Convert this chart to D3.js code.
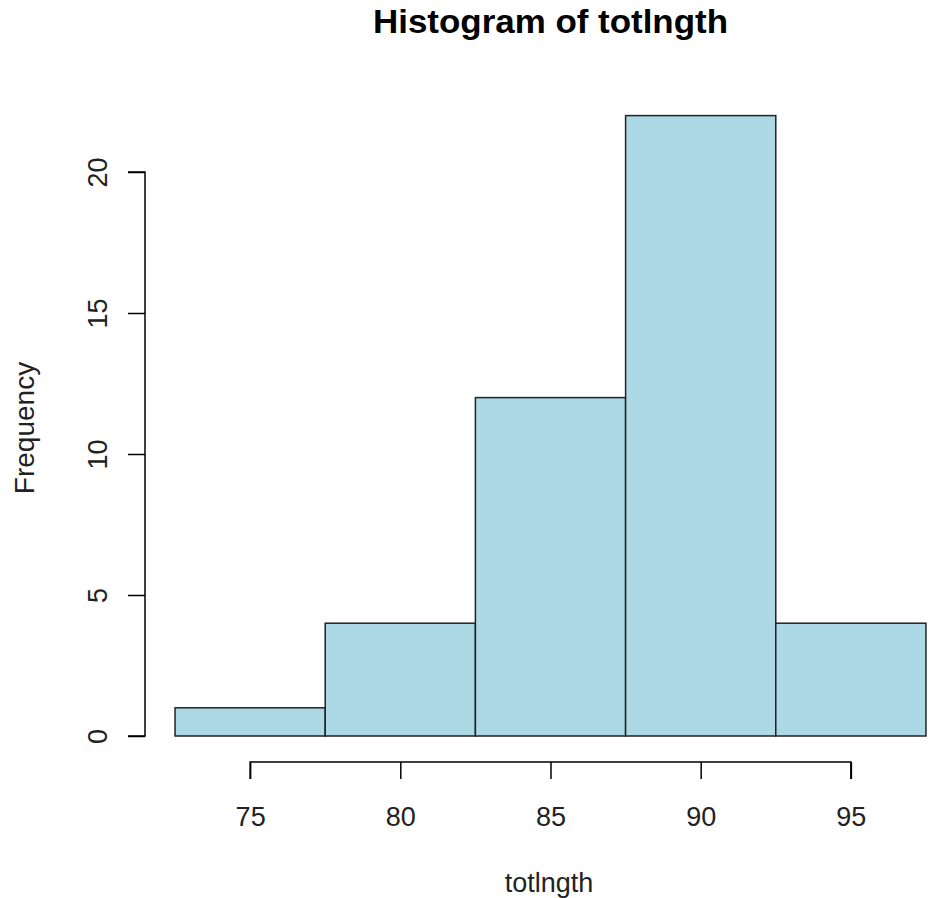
<!DOCTYPE html>
<html><head><meta charset="utf-8">
<script src="https://cdn.jsdelivr.net/npm/d3@7"></script>
<style>body{margin:0;background:#fff}svg{display:block}</style>
</head><body>
<script>
const binStarts = [72.5, 77.5, 82.5, 87.5, 92.5];
const binEnds = [77.5, 82.5, 87.5, 92.5, 97.5];
const counts = [1, 4, 12, 22, 4];
const xTicks = [75, 80, 85, 90, 95];
const yTicks = [0, 5, 10, 15, 20];
const title = "Histogram of totlngth";
const xLabel = "totlngth";
const yLabel = "Frequency";

const W = 932, H = 898;
const svg = d3.select("body").append("svg").attr("width", W).attr("height", H);
const font = "'Liberation Sans', Arial, sans-serif";

const x = d3.scaleLinear().domain([71.5, 98.5]).range([145, 956]);
const y = d3.scaleLinear().domain([0, 20]).range([736, 172]);

// bars
svg.selectAll("rect.bar").data(counts).enter().append("rect")
  .attr("x", (d, i) => x(binStarts[i]))
  .attr("width", (d, i) => x(binEnds[i]) - x(binStarts[i]))
  .attr("y", d => y(d))
  .attr("height", d => y(0) - y(d))
  .attr("fill", "#ADD8E6")
  .attr("stroke", "#222")
  .attr("stroke-width", 1.5);

// x axis
const xAxis = d3.axisBottom(x).tickValues(xTicks).tickSize(17).tickFormat(d3.format("d"));
const gx = svg.append("g").attr("transform", "translate(0,762)").call(xAxis);
gx.select(".domain").attr("d", `M${x(xTicks[0])},17V0H${x(xTicks[xTicks.length-1])}V17`).attr("stroke", "#000").attr("stroke-width", 1.5);
gx.selectAll(".tick line").attr("stroke", "#000").attr("stroke-width", 1.5);
gx.selectAll(".tick text").attr("font-family", font).attr("font-size", 27).attr("fill", "#222")
  .attr("y", 64).attr("dy", null);

// y axis
const yAxis = d3.axisLeft(y).tickValues(yTicks).tickSize(17).tickFormat(d3.format("d"));
const gy = svg.append("g").attr("transform", "translate(145,0)").call(yAxis);
gy.select(".domain").attr("d", `M-17,${y(yTicks[0])}H0V${y(yTicks[yTicks.length-1])}H-17`).attr("stroke", "#000").attr("stroke-width", 1.5);
gy.selectAll(".tick line").attr("stroke", "#000").attr("stroke-width", 1.5);
gy.selectAll(".tick text")
  .attr("font-family", font).attr("font-size", 27).attr("fill", "#222")
  .attr("x", null).attr("dy", null)
  .attr("text-anchor", "middle")
  .attr("transform", "translate(-38,0) rotate(-90)");

// title
svg.append("text").attr("x", 550.5).attr("y", 33).attr("text-anchor", "middle")
  .attr("font-family", font).attr("font-weight", "bold").attr("font-size", 33).attr("fill", "#000")
  .attr("textLength", 355).attr("lengthAdjust", "spacingAndGlyphs")
  .text(title);

// x label
svg.append("text").attr("x", 549).attr("y", 892).attr("text-anchor", "middle")
  .attr("font-family", font).attr("font-size", 27).attr("fill", "#222").text(xLabel);

// y label
svg.append("text").attr("transform", "translate(34,428) rotate(-90)").attr("text-anchor", "middle")
  .attr("font-family", font).attr("font-size", 28).attr("fill", "#222").text(yLabel);
</script>
</body></html>
